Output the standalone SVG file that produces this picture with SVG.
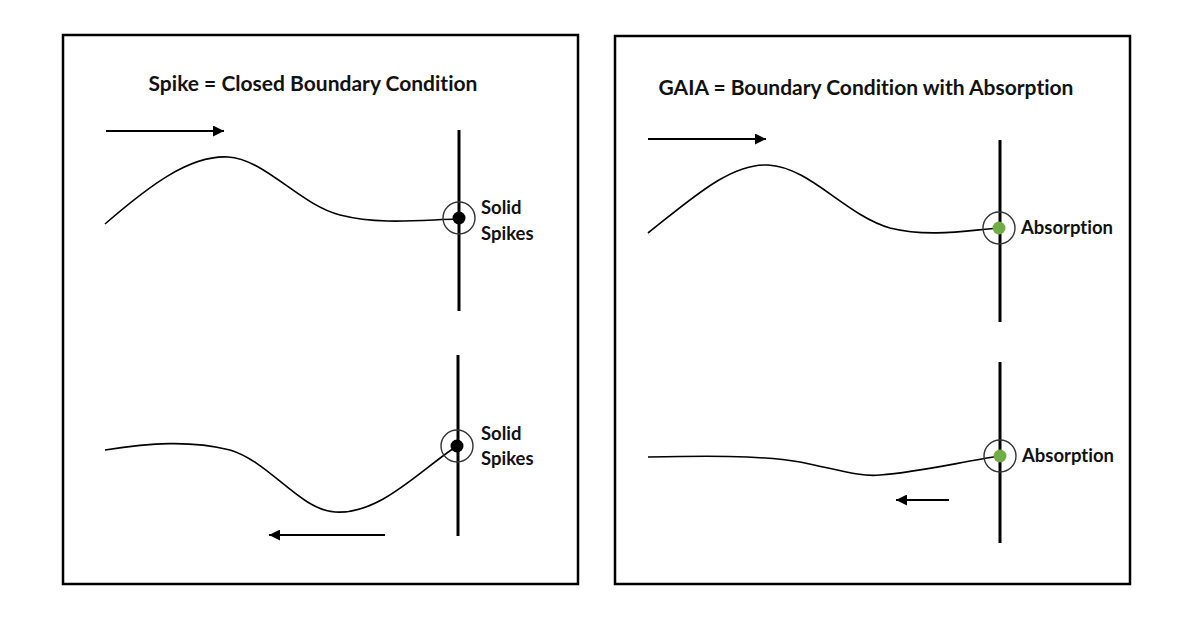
<svg xmlns="http://www.w3.org/2000/svg" width="1200" height="624" viewBox="0 0 1200 624">
<defs>
<marker id="ah" viewBox="0 0 10 10" refX="10" refY="5" markerWidth="11" markerHeight="11" markerUnits="userSpaceOnUse" orient="auto">
<path d="M0,0 L10,5 L0,10 z" fill="#000"/>
</marker>
</defs>
<style>
.panel{fill:#fff;stroke:#000;stroke-width:2.5}
.title{font-family:Lato,"Open Sans",sans-serif;font-weight:bold;font-size:21px;fill:#111;text-anchor:middle;font-variant-ligatures:none}
.lbl{font-family:Lato,"Open Sans",sans-serif;font-weight:bold;font-size:18.5px;fill:#111;font-variant-ligatures:none}
.wave{fill:none;stroke:#000;stroke-width:1.6}
.wall{stroke:#000;stroke-width:3}
.ring{fill:none;stroke:#333;stroke-width:1.4}
.arrow{stroke:#000;stroke-width:2;marker-end:url(#ah)}
</style>
<rect width="1200" height="624" fill="#fff"/>
<g id="panel-left">
<rect class="panel" x="63" y="35" width="515" height="549"/>
<text class="title" x="313" y="91">Spike = Closed Boundary Condition</text>
</g>
<g id="panel-right">
<rect class="panel" x="615" y="36" width="515" height="548"/>
<text class="title" x="866" y="95">GAIA = Boundary Condition with Absorption</text>
</g>
<g id="connectors">
<line class="arrow" x1="106" y1="131" x2="224" y2="131"/>
<line class="arrow" x1="385" y1="535" x2="269" y2="535"/>
<line class="arrow" x1="648" y1="139" x2="766" y2="139"/>
<line class="arrow" x1="949" y1="500" x2="896" y2="500"/>
<path class="wave" d="M105,224 C150,185 190,155 228,157 C265,159 300,205 340,215 C380,225 420,220 458,219"/>
<path class="wave" d="M105,450 C150,443 190,440 230,450 C270,462 300,510 335,512 C380,515 420,470 457,446"/>
<path class="wave" d="M648,233 C690,200 730,163 768,165 C810,167 845,215 890,228 C930,238 970,230 999,228"/>
<path class="wave" d="M648,457 C700,456 760,455 800,462 C840,470 860,477 880,475 C920,472 960,462 1000,456"/>
</g>
<g id="wall-tl">
<line class="wall" x1="459" y1="130" x2="459" y2="311"/>
<circle class="ring" cx="459" cy="218" r="16"/>
<circle cx="459" cy="218" r="6.5" fill="#000"/>
<text class="lbl" x="481" y="214">Solid</text>
<text class="lbl" x="481" y="240">Spikes</text>
</g>
<g id="wall-bl">
<line class="wall" x1="458" y1="355" x2="458" y2="536"/>
<circle class="ring" cx="457" cy="446" r="16"/>
<circle cx="457" cy="446" r="6.5" fill="#000"/>
<text class="lbl" x="481" y="440">Solid</text>
<text class="lbl" x="481" y="465">Spikes</text>
</g>
<g id="wall-tr">
<line class="wall" x1="1000" y1="140" x2="1000" y2="322"/>
<circle class="ring" cx="999" cy="228" r="16"/>
<circle cx="999" cy="228" r="6.5" fill="#70ad47"/>
<text class="lbl" x="1021" y="234">Absorption</text>
</g>
<g id="wall-br">
<line class="wall" x1="1000" y1="362" x2="1000" y2="543"/>
<circle class="ring" cx="1000" cy="456" r="16"/>
<circle cx="1000" cy="456" r="6.5" fill="#70ad47"/>
<text class="lbl" x="1022" y="462">Absorption</text>
</g>
</svg>
